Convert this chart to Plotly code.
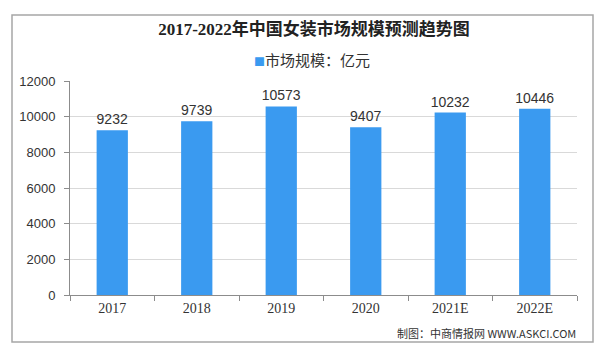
import plotly.graph_objects as go

categories = ["2017", "2018", "2019", "2020", "2021E", "2022E"]
values = [9232, 9739, 10573, 9407, 10232, 10446]
series_name = "市场规模：亿元"
title_text = "2017-2022年中国女装市场规模预测趋势图"
source_text = "制图：中商情报网 WWW.ASKCI.COM"
y_ticks = [0, 2000, 4000, 6000, 8000, 10000, 12000]

BAR = "#3A9AF0"
W, H = 600, 358
L, R, T, B = 70, 23, 81, 63
pw, ph = W - L - R, H - T - B

def px_x(x):
    return (x - L) / pw

def px_y(y):
    return (H - B - y) / ph

fig = go.Figure()
fig.add_trace(go.Bar(
    x=categories, y=values, name=series_name,
    marker=dict(color=BAR, line=dict(width=0)),
    width=0.37,
    text=[str(v) for v in values], textposition="outside",
    constraintext="none",
    textfont=dict(family="Liberation Sans, Arial", size=14, color="#333333"),
    cliponaxis=False,
    showlegend=False,
))

fig.update_layout(
    width=W, height=H,
    margin=dict(l=L, r=R, t=T, b=B),
    paper_bgcolor="white", plot_bgcolor="white",
    title=dict(text="<b>" + title_text + "</b>", x=px_x(314), xanchor="center", xref="paper",
               y=1 - 29 / H, yanchor="middle",
               font=dict(family="Liberation Serif, Noto Sans CJK SC", size=17, color="#222222")),
    xaxis=dict(
        type="category", showline=True, linecolor="#8c8c8c", linewidth=1,
        ticks="outside", tickson="boundaries", ticklen=5, tickcolor="#8c8c8c",
        tickfont=dict(family="Liberation Serif, Times New Roman", size=14, color="#333333"),
        showgrid=False,
    ),
    yaxis=dict(
        range=[0, 12000], tickvals=y_ticks, tickformat="d", showline=True, linecolor="#8c8c8c", linewidth=1,
        ticks="outside", ticklen=5, tickcolor="#8c8c8c",
        showgrid=True, gridcolor="#d9d9d9", gridwidth=1,
        tickfont=dict(family="Liberation Sans, Arial", size=13, color="#333333"),
        ticklabelstandoff=6, zeroline=False,
    ),
    shapes=[dict(type="rect", xref="paper", yref="paper",
                 x0=px_x(12), x1=px_x(593), y0=px_y(342), y1=px_y(15),
                 line=dict(color="#a6a6a6", width=1.5), fillcolor="rgba(0,0,0,0)", layer="below")],
    annotations=[
        dict(text="<span style='color:" + BAR + ";font-size:11px'>■</span>" + series_name,
             xref="paper", yref="paper", x=px_x(252), xanchor="left", y=px_y(60), yanchor="middle",
             showarrow=False, font=dict(family="Noto Sans CJK SC", size=15, color="#333333")),
        dict(text=source_text, xref="paper", yref="paper",
             x=px_x(578), xanchor="right", y=px_y(333), yanchor="middle",
             showarrow=False,
             font=dict(family="Noto Sans CJK SC", size=11, color="#333333")),
    ],
)

fig.write_html("out.html", config={"displayModeBar": False},
               post_script="document.body.style.margin='0';")
